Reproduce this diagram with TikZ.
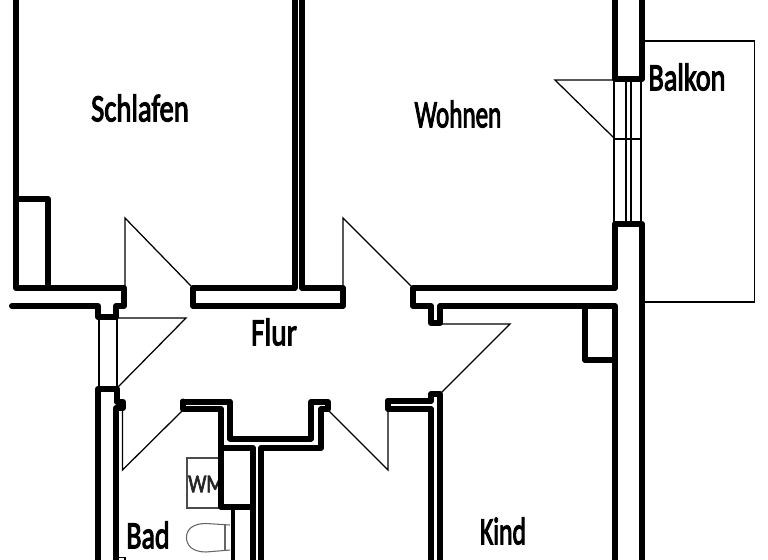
\documentclass[tikz,border=0pt]{standalone}
\usepackage{fontspec}
\setmainfont{Carlito}
\newfontfamily\planfont{Carlito}[FakeBold=3.2]
\tikzset{
  wall/.style={line width=4.5pt,line join=round,line cap=round,black},
  thinwall/.style={line width=3pt,line join=round,black},
  fine/.style={line width=0.95pt,black,line join=miter},
  grayline/.style={line width=0.8pt,black!60},
  room/.style={font=\planfont\fontsize{29}{29}\selectfont,inner sep=0pt,text=black},
  tag/.style={font=\planfont\fontsize{19}{19}\selectfont,inner sep=0pt,xscale=0.8,text=black!85}
}
\begin{document}
\begin{tikzpicture}[x=0.75pt,y=-0.75pt]
\useasboundingbox (0,0) rectangle (768,560);
% thin door, window and balcony lines
\draw[fine] (125,288) -- (125,218) -- (191,286);
\draw[fine] (343,288) -- (343,218) -- (411,286);
\draw[fine] (117,318) -- (186,318) -- (118,387);
\draw[fine] (440,324) -- (510,324) -- (441,393);
\draw[fine] (388,410) -- (388,470) -- (329,411);
\draw[fine] (182,411) -- (122.5,470) -- (122.5,408);
\draw[fine] (614,80) -- (555,80) -- (614,138);
\draw[fine] (99,318) -- (99,388);
\draw[fine] (117,318) -- (117,388);
\draw[fine] (614,80) -- (614,223);
\draw[fine] (626,80) -- (626,223);
\draw[fine] (631,80) -- (631,223);
\draw[fine] (641,80) -- (641,223);
\draw[fine] (614,139) -- (641,139);
\draw[fine] (644,41) -- (754.5,41) -- (754.5,302) -- (644,302);
% fixtures
\draw[fine,black!70] (187,458) rectangle (221,508);
\node[tag] (wm) at (206,484) {WM};
\draw[grayline] (230,525) -- (206,523.5) .. controls (192,523.5) and (186.5,530) .. (186.5,537.5) .. controls (186.5,545) and (192,552) .. (206,552) -- (230,550);
\draw[grayline] (225,525) -- (225,550);
\draw[fine] (118.5,560) -- (118.5,557.5) -- (125,557.5) -- (125,560);
% walls: upper rooms
\draw[wall] (16,-5) -- (16,288) -- (124,288) -- (124,306) -- (116,306) -- (116,317) -- (98,317) -- (98,306) -- (12,306);
\draw[wall] (16,199) -- (48,199) -- (48,288);
\draw[wall] (294.5,-5) -- (294.5,288) -- (193,288) -- (193,306) -- (343,306) -- (343,288) -- (302,288) -- (302,-5);
% walls: east
\draw[wall] (615,-5) -- (615,79) -- (642,79) -- (642,-5);
\draw[wall] (642,565) -- (642,224) -- (615,224) -- (615,288) -- (413,288) -- (413,306) -- (431,306) -- (431,323) -- (440,323) -- (440,306) -- (615,306) -- (615,565);
\draw[wall] (585,306) -- (585,360) -- (615,360);
% walls: lower rooms
\draw[wall] (98,565) -- (98,389) -- (117,389) -- (117,402) -- (123,402) -- (123,408) -- (116,408) -- (116,565);
\draw[wall] (183,401.5) -- (183,409) -- (221,409) -- (221,507) -- (253,507);
\draw[wall] (183,401.5) -- (230,401.5) -- (230,438.5) -- (311,438.5) -- (311,402) -- (328,402) -- (328,409) -- (321,409) -- (321,448) -- (261,448) -- (261,565);
\draw[wall] (221,448) -- (253,448) -- (253,565);
\draw[wall] (388,401) -- (388,409) -- (431,409) -- (431,565);
\draw[wall] (388,401) -- (431,401) -- (431,394) -- (439.5,394) -- (439.5,565);
\draw[thinwall] (233,507) -- (233,565);
% labels
\node[room,xscale=0.74] (schlafen) at (140,108) {Schlafen};
\node[room,xscale=0.65] (wohnen) at (458,114) {Wohnen};
\node[room,xscale=0.73] (balkon) at (687,77) {Balkon};
\node[room,xscale=0.76] (flur) at (274,332) {Flur};
\node[room,xscale=0.72] (bad) at (148,535) {Bad};
\node[room,xscale=0.66] (kind) at (503,531) {Kind};
\end{tikzpicture}
\end{document}
